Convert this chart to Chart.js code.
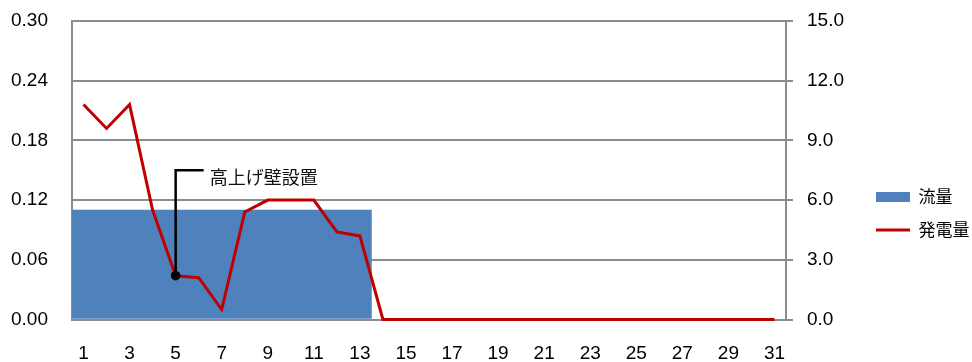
<!DOCTYPE html>
<html>
<head>
<meta charset="utf-8">
<script src="https://cdn.jsdelivr.net/npm/chart.js@4/dist/chart.umd.min.js"></script>
<style>
  html, body { margin: 0; padding: 0; background: #ffffff; }
  canvas { display: block; }
</style>
</head>
<body>
<canvas id="chart" width="972" height="362"></canvas>
<script>
// Days of the month (category axis)
const days = ['1','2','3','4','5','6','7','8','9','10','11','12','13','14','15','16',
              '17','18','19','20','21','22','23','24','25','26','27','28','29','30','31'];

// 流量 (left axis)
const flow = [0.11, 0.11, 0.11, 0.11, 0.11, 0.11, 0.11, 0.11, 0.11, 0.11, 0.11, 0.11, 0.11,
              null, null, null, null, null, null, null, null, null, null, null, null, null,
              null, null, null, null, null];

// 発電量 (right axis)
const power = [10.8, 9.6, 10.8, 5.5, 2.2, 2.1, 0.5, 5.4, 6.0, 6.0, 6.0, 4.4, 4.2,
               0, 0, 0, 0, 0, 0, 0, 0, 0, 0, 0, 0, 0, 0, 0, 0, 0, 0];

// Axis ranges
const flowAxis = { min: 0, max: 0.30, step: 0.06 };
const powerAxis = { min: 0, max: 15, step: 3 };

// Callout on the power line
const noteDay = '5';
const noteText = '高上げ壁設置';
const noteTop = 7.5;   // top of the leader, in 発電量 units

const FONT = "'Liberation Sans', Arial, 'Noto Sans CJK JP', sans-serif";
const JP_FONT = "'Noto Sans CJK JP', 'Liberation Sans', sans-serif";
const GRID = '#8c8c8c';
const BLUE = '#4f81bd';
const RED = '#c00000';

const calloutPlugin = {
  id: 'callout',
  afterDatasetsDraw(chart) {
    const { ctx, scales } = chart;
    const idx = days.indexOf(noteDay);
    const x = scales.x.getPixelForValue(idx);
    const yPoint = scales.y1.getPixelForValue(power[idx]);
    const yTop = scales.y1.getPixelForValue(noteTop);
    ctx.save();
    ctx.strokeStyle = '#000';
    ctx.lineWidth = 2.5;
    ctx.lineJoin = 'miter';
    ctx.beginPath();
    ctx.moveTo(x, yPoint);
    ctx.lineTo(x, yTop);
    ctx.lineTo(x + 28, yTop);
    ctx.stroke();
    ctx.fillStyle = '#000';
    ctx.beginPath();
    ctx.arc(x, yPoint, 4.8, 0, Math.PI * 2);
    ctx.fill();
    ctx.font = '18px ' + JP_FONT;
    ctx.textBaseline = 'middle';
    ctx.textAlign = 'left';
    ctx.fillStyle = '#111';
    ctx.fillText(noteText, x + 34, yTop + 6.5);
    ctx.restore();
  }
};

// keep the axis label overhang from shrinking the plot area
const fitY = (width) => (s) => {
  s.width = width;
  s.paddingTop = 0;
  s.paddingBottom = 0;
};

new Chart(document.getElementById('chart'), {
  data: {
    labels: days,
    datasets: [
      {
        type: 'bar',
        label: '流量',
        data: flow,
        yAxisID: 'y',
        backgroundColor: BLUE,
        borderWidth: 0,
        categoryPercentage: 1.0,
        barPercentage: 1.0,
        order: 2
      },
      {
        type: 'line',
        label: '発電量',
        data: power,
        yAxisID: 'y1',
        borderColor: RED,
        backgroundColor: RED,
        borderWidth: 3,
        pointRadius: 0,
        tension: 0,
        fill: false,
        clip: 6,
        order: 1
      }
    ]
  },
  options: {
    responsive: false,
    animation: false,
    devicePixelRatio: 1,
    layout: { padding: { top: 21, left: 0, right: 0, bottom: 0 } },
    scales: {
      x: {
        offset: true,
        grid: { display: false, drawTicks: false },
        border: { display: false },
        ticks: {
          autoSkip: false,
          maxRotation: 0,
          padding: 23,
          color: '#000',
          font: { family: FONT, size: 19 },
          callback: (v, i) => (i % 2 === 0 ? days[i] : '')
        },
        afterFit: (s) => { s.height = 42.5; s.paddingLeft = 0; s.paddingRight = 0; }
      },
      y: {
        position: 'left',
        min: flowAxis.min,
        max: flowAxis.max,
        grid: { color: GRID, lineWidth: 2, drawTicks: false },
        border: { display: true, color: GRID, width: 2 },
        ticks: {
          stepSize: flowAxis.step,
          padding: 24,
          color: '#000',
          font: { family: FONT, size: 19 },
          callback: (v) => Number(v).toFixed(2)
        },
        afterFit: fitY(72)
      },
      y1: {
        position: 'right',
        min: powerAxis.min,
        max: powerAxis.max,
        grid: { drawOnChartArea: false, color: GRID, lineWidth: 2, drawTicks: true, tickLength: 7 },
        border: { display: true, color: GRID, width: 2 },
        ticks: {
          stepSize: powerAxis.step,
          padding: 14,
          color: '#000',
          font: { family: FONT, size: 19 },
          callback: (v) => Number(v).toFixed(1)
        },
        afterFit: fitY(74)
      }
    },
    plugins: {
      tooltip: { enabled: false },
      legend: {
        position: 'right',
        align: 'start',
        maxWidth: 112,
        title: { display: true, text: '', font: { size: 12 }, padding: { top: 0, bottom: 137 } },
        labels: {
          usePointStyle: true,
          pointStyleWidth: 34,
          boxHeight: 10,
          padding: 16,
          color: '#000',
          font: { family: JP_FONT, size: 17 },
          sort: (a, b) => a.datasetIndex - b.datasetIndex,
          generateLabels(chart) {
            const items = Chart.defaults.plugins.legend.labels.generateLabels(chart);
            items.forEach((it) => {
              const ds = chart.data.datasets[it.datasetIndex];
              if (ds.type === 'line') {
                it.pointStyle = 'line';
                it.lineWidth = 3;
                it.strokeStyle = RED;
              } else {
                it.pointStyle = 'rect';
                it.lineWidth = 0;
                it.fillStyle = BLUE;
              }
            });
            return items;
          }
        }
      }
    }
  },
  plugins: [calloutPlugin]
});
</script>
</body>
</html>
